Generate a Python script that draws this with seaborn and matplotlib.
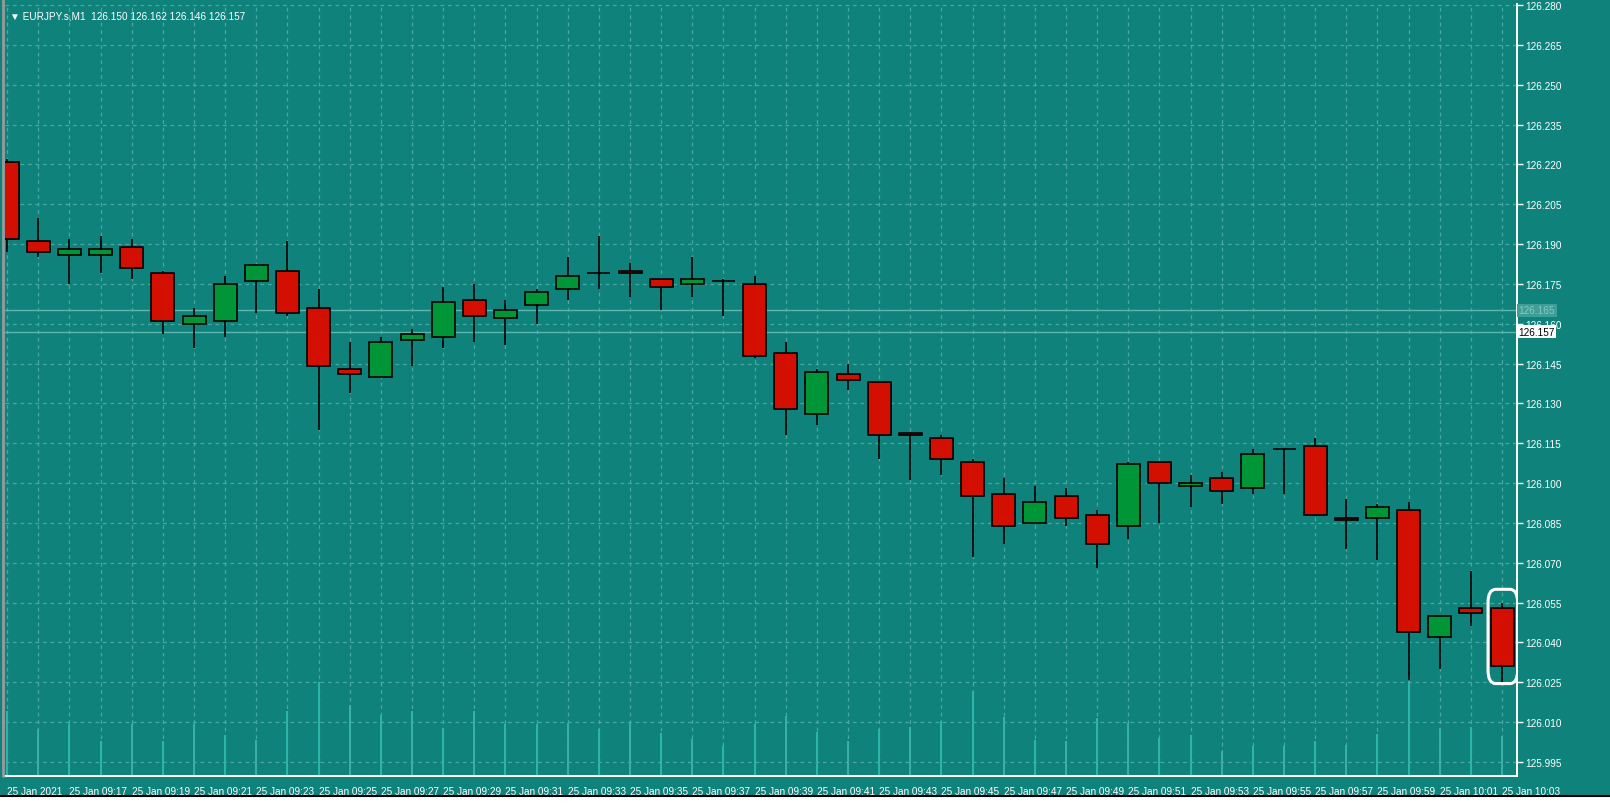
import numpy as np
import pandas as pd
import matplotlib
matplotlib.use("Agg")
import matplotlib.pyplot as plt
import seaborn as sns
from matplotlib.patches import FancyBboxPatch

times = ["09:%02d" % m for m in range(15, 60)] + ["10:%02d" % m for m in range(0, 4)]
opens = [126.221, 126.191, 126.186, 126.186, 126.189, 126.179, 126.160, 126.161, 126.176, 126.180,
         126.166, 126.143, 126.140, 126.154, 126.155, 126.169, 126.162, 126.167, 126.173, 126.179,
         126.180, 126.177, 126.175, 126.176, 126.175, 126.149, 126.126, 126.141, 126.138, 126.119,
         126.117, 126.108, 126.096, 126.085, 126.095, 126.088, 126.084, 126.108, 126.099, 126.102,
         126.098, 126.113, 126.114, 126.087, 126.087, 126.090, 126.042, 126.053, 126.053]
highs = [126.222, 126.200, 126.192, 126.193, 126.192, 126.180, 126.166, 126.178, 126.182, 126.191,
         126.173, 126.153, 126.155, 126.158, 126.174, 126.175, 126.169, 126.173, 126.185, 126.193,
         126.183, 126.177, 126.185, 126.177, 126.178, 126.153, 126.143, 126.145, 126.138, 126.119,
         126.118, 126.109, 126.102, 126.099, 126.098, 126.090, 126.108, 126.108, 126.103, 126.104,
         126.113, 126.113, 126.117, 126.094, 126.092, 126.093, 126.050, 126.067, 126.055]
lows = [126.187, 126.185, 126.175, 126.179, 126.177, 126.156, 126.151, 126.155, 126.164, 126.163,
        126.120, 126.134, 126.140, 126.144, 126.151, 126.153, 126.152, 126.160, 126.169, 126.173,
        126.170, 126.165, 126.170, 126.163, 126.147, 126.118, 126.122, 126.135, 126.109, 126.101,
        126.103, 126.072, 126.077, 126.085, 126.084, 126.068, 126.079, 126.085, 126.091, 126.092,
        126.096, 126.096, 126.088, 126.075, 126.071, 126.026, 126.030, 126.046, 126.025]
closes = [126.192, 126.187, 126.188, 126.188, 126.181, 126.161, 126.163, 126.175, 126.182, 126.164,
          126.144, 126.141, 126.153, 126.156, 126.168, 126.163, 126.165, 126.172, 126.178, 126.179,
          126.179, 126.174, 126.177, 126.176, 126.148, 126.128, 126.142, 126.139, 126.118, 126.118,
          126.109, 126.095, 126.084, 126.093, 126.087, 126.077, 126.107, 126.100, 126.100, 126.097,
          126.111, 126.113, 126.088, 126.086, 126.091, 126.044, 126.050, 126.051, 126.031]
volumes = [65, 47, 52, 35, 52, 35, 52, 41, 36, 65, 94, 71, 61, 65, 48, 65, 52, 52, 53, 47,
           53, 43, 37, 30, 52, 60, 44, 35, 47, 49, 55, 85, 59, 36, 35, 58, 53, 38, 41, 25,
           30, 30, 35, 31, 42, 95, 48, 49, 40]
yticks = [round(125.995 + 0.015 * k, 3) for k in range(20)]
bid_price = 126.157
ask_price = 126.165
header = "\u25BC EURJPY.s,M1  126.150 126.162 126.146 126.157"

df = pd.DataFrame({"t": times, "o": opens, "h": highs, "l": lows, "c": closes, "v": volumes})
df["i"] = np.arange(len(df))

sns.set_theme(style="dark")
plt.rcParams["font.family"] = ["Liberation Sans", "DejaVu Sans"]
BG = "#0f837b"
RED = "#d20f00"
GRN = "#009638"
GRID = "#4ba7a1"
FS = 7.2

fig = plt.figure(figsize=(16.1, 8.04), dpi=100, facecolor=BG)
ax = fig.add_axes([5 / 1610, 1 - 777 / 804, 1512 / 1610, 772 / 804])
ax.set_facecolor(BG)
ax.set_xlim(-0.07, 48.48)
ax.set_ylim(125.9897, 126.2804)

# volume overlay
ax2 = ax.twinx()
ax2.set_ylim(0, 772)
ax2.vlines(df["i"], 0, df["v"], color="#2fc2b6", lw=1.2)
ax2.set_yticks([])
ax2.grid(False)
ax.set_zorder(ax2.get_zorder() + 1)
ax.patch.set_visible(False)
ax2.set_facecolor(BG)

# grid
for yv in yticks:
    ax.axhline(yv, color=GRID, lw=0.9, ls=(0, (3, 3)), zorder=0)
for xv in df["i"]:
    ax.axvline(xv, color=GRID, lw=0.9, ls=(0, (3, 3)), zorder=0)

# bid/ask lines
ax.axhline(ask_price, color="#5fb6af", lw=1, zorder=1)
ax.axhline(bid_price, color="#5fb6af", lw=1, zorder=1)

# candles
w = 0.74
ax.vlines(df["i"], df["l"], df["h"], color="black", lw=1.2, zorder=2)
for _, r in df.iterrows():
    lo = min(r.o, r.c)
    hgt = abs(r.c - r.o)
    if hgt < 1e-9:
        ax.hlines(r.o, r.i - w / 2, r.i + w / 2, color="black", lw=1.2, zorder=3)
    else:
        col = GRN if r.c > r.o else RED
        ax.bar(r.i, max(hgt, 0.0004), bottom=lo if hgt >= 0.0004 else (r.o + r.c) / 2 - 0.0002,
               width=w, color=col, edgecolor="black", lw=1.2, zorder=3)

# highlight around last candle
last = len(df) - 1
ax.add_patch(FancyBboxPatch((last - 0.45, 126.0245), 0.95, 0.0355,
                            boxstyle="round,pad=0,rounding_size=0.25", mutation_aspect=0.02,
                            fill=False, ec="white", lw=2.2, zorder=5))

# axes styling
for s in ["top", "left"]:
    ax.spines[s].set_visible(False)
    ax2.spines[s].set_visible(False)
for s in ["right", "bottom"]:
    ax.spines[s].set_color("white")
    ax.spines[s].set_linewidth(1.2)
    ax2.spines[s].set_color("white")
ax.yaxis.tick_right()
ax.set_yticks(yticks)
ax.set_yticklabels([f"{v:.3f}" for v in yticks])
ax.tick_params(axis="y", colors="white", labelsize=FS, length=4, width=1, pad=2, direction="out")
xt = df["i"][::2]
xl = ["25 Jan 2021"] + ["25 Jan " + t for t in df["t"][::2][1:]]
ax.set_xticks(xt)
ax.set_xticklabels(xl, ha="left")
ax.tick_params(axis="x", colors="white", labelsize=FS, length=4, width=1, pad=3, direction="out")
ax.grid(False)

# price labels
ax.text(1.001, ask_price, "126.165", transform=ax.get_yaxis_transform(), ha="left", va="center",
        fontsize=FS, color="#86c9c3", bbox=dict(boxstyle="square,pad=0.15", fc="#3f9e97", ec="none"), zorder=6)
ax.text(1.001, bid_price, "126.157", transform=ax.get_yaxis_transform(), ha="left", va="center",
        fontsize=FS, color="black", bbox=dict(boxstyle="square,pad=0.15", fc="white", ec="none"), zorder=6)

# header
ax.text(0.003, 0.992, header, transform=ax.transAxes, ha="left", va="top", fontsize=FS,
        color="white", zorder=6, family=["Liberation Sans", "DejaVu Sans"])

# window frame details
fig.patches.append(plt.Rectangle((0, 0), 1, 7 / 804, transform=fig.transFigure, color="white", zorder=-1))
fig.lines.append(plt.Line2D([0, 1], [7 / 804, 7 / 804], transform=fig.transFigure, color="black", lw=1.5))
fig.lines.append(plt.Line2D([2.5 / 1610, 2.5 / 1610], [1 - 777 / 804, 1], transform=fig.transFigure, color="#9a9a9a", lw=2))

fig.savefig("out.png", dpi=100, facecolor=BG)
